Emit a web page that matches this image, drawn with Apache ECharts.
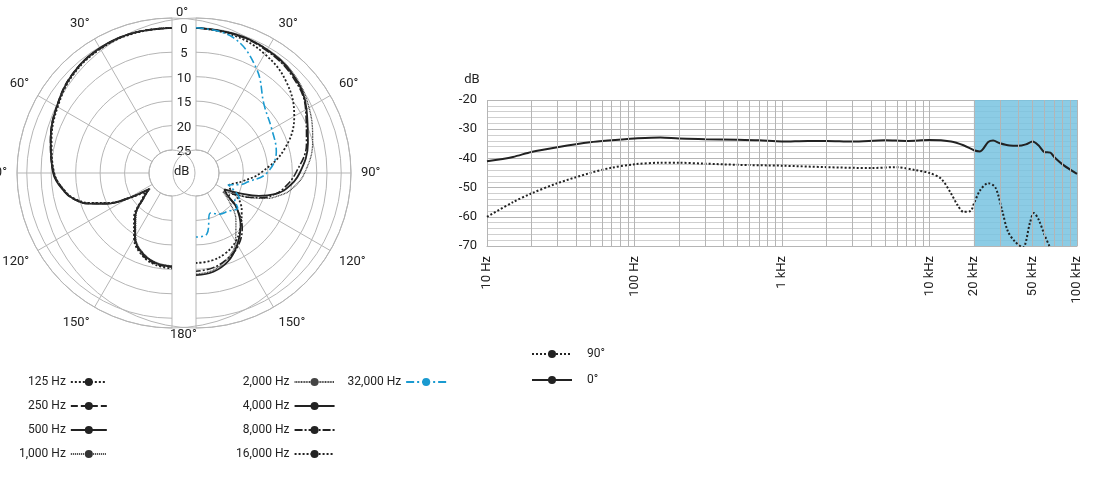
<!DOCTYPE html>
<html>
<head>
<meta charset="utf-8">
<script src="https://cdn.jsdelivr.net/npm/echarts@6/dist/echarts.min.js"></script>
<style>html,body{margin:0;padding:0;background:#fff}#c{width:1105px;height:484px}</style>
</head>
<body>
<div id="c"></div>
<script>
// polar data: [attenuation dB, angle deg]
var angles = [0, 15, 30, 45, 60, 75, 90, 100, 105, 110, 115, 120, 125, 130, 140, 150, 160, 170, 180];
var p125  = [0, 0.1, 0.4, 1.2, 2.7, 4.2, 5.6, 7.6, 9.2, 11.8, 15.2, 19.2, 23, 22, 17.6, 14.2, 11.8, 10.6, 10.2];
var p250  = [0, 0, 0.3, 1, 2.5, 4, 5.5, 7.5, 9, 11.5, 15, 19.5, 24, 22.5, 18, 14.5, 12, 10.8, 10.5];
var p500  = [0, 0, 0.2, 1, 2.5, 4, 5.4, 7.4, 9, 11.4, 14.8, 19.3, 24, 22.4, 18, 14.6, 12.2, 11, 10.6];
var p1000 = [0, 0, 0.3, 1.1, 2.6, 4.1, 5.6, 7.6, 9.1, 11.6, 15.1, 19.6, 24.2, 22.6, 18.2, 14.8, 12.3, 11.1, 10.7];
var p2000 = [0, 0.2, 0.5, 1.3, 3, 5, 7.5, 10, 12, 14.5, 18, 21.5, 23, 21, 17, 13.5, 11, 9.5, 9];
var p4000 = [0, 0.2, 0.6, 1.5, 3.6, 6, 8.5, 11, 13, 16, 20, 23, 22, 19, 15.5, 12.8, 10.5, 9.2, 8.8];
var p8000 = [0, 0.3, 0.8, 1.8, 3.8, 6.3, 9.3, 11.5, 13, 15, 18, 21, 21.5, 19, 15, 12.5, 11, 10, 9.6];
var p16000 = [0, 0.5, 1.6, 3.5, 6.5, 11, 16.5, 20, 21.5, 22.5, 22, 20, 18.5, 17.5, 15.5, 13.5, 12.2, 11.5, 11.3];
var p32000 = [0, 0.9, 5, 10, 11.8, 12.7, 15.2, 19, 20.5, 22.7, 21, 19.5, 20, 18.6, 19.5, 20, 21, 17, 16.6];
var polarTicks = [0, 5, 10, 15, 20, 25];

// frequency response
var f0 = [10, 15, 20, 30, 50, 70, 100, 150, 200, 300, 500, 700, 1000, 1500, 2000, 3000, 5000, 7000, 10000, 14000, 17000, 20000, 22000, 25000, 27000, 30000, 35000, 40000, 45000, 50000, 55000, 60000, 66000, 70000, 81000, 100000];
var db0 = [-41, -39.5, -37.8, -36.2, -34.5, -33.8, -33.2, -32.8, -33.2, -33.4, -33.6, -33.8, -34.2, -34, -34, -34.2, -33.8, -34, -33.7, -34.2, -35.5, -37.2, -37.6, -34.4, -33.9, -34.8, -35.6, -35.7, -35.2, -34.2, -35.6, -37.8, -38, -39.5, -42.3, -45.3];
var f90 = [10, 15, 20, 30, 50, 70, 100, 150, 200, 300, 500, 1000, 2000, 4000, 6000, 8000, 10000, 12000, 14000, 15500, 17000, 19000, 20000, 22000, 25000, 28000, 31000, 34000, 38000, 43000, 48000, 51000, 55000, 60000, 65000];
var db90 = [-60, -55, -52, -48.5, -45, -43.2, -42, -41.5, -41.5, -41.8, -42.2, -42.5, -43, -43.3, -43, -44, -45, -47, -52, -56, -58.3, -58, -55.5, -51, -48.5, -50, -57.6, -65, -68.5, -70.5, -62, -58.7, -61, -66, -70];
var minorFreqs = [20, 30, 40, 50, 60, 70, 80, 90, 200, 300, 400, 500, 600, 700, 800, 900, 2000, 3000, 4000, 5000, 6000, 7000, 8000, 9000, 20000, 30000, 40000, 50000, 60000, 70000, 80000, 90000];
var freqTicks = [[20000, '20 kHz'], [50000, '50 kHz']];

var font = 'Roboto, "Liberation Sans", sans-serif';
var grey = '#b5b5b5';

function pts(arr) {
  return arr.map(function (v, i) { return [v, angles[i]]; });
}
function xy(xs, ys) {
  return xs.map(function (x, i) { return [x, ys[i]]; });
}

var polarSeries = [
  ['125 Hz', p125, 0, [2, 2], '#222', 1.8],
  ['250 Hz', p250, 0, [7, 3], '#222', 1.8],
  ['500 Hz', p500, 0, 'solid', '#222', 1.8],
  ['1,000 Hz', p1000, 0, [1, 1], '#333', 1.5],
  ['2,000 Hz', p2000, 1, [1, 0.6], '#444', 1.3],
  ['4,000 Hz', p4000, 1, 'solid', '#222', 1.8],
  ['8,000 Hz', p8000, 1, [8, 2, 2, 2], '#222', 1.6],
  ['16,000 Hz', p16000, 1, [2, 2], '#222', 1.8],
  ['32,000 Hz', p32000, 1, [8, 3, 2, 3], '#1a9ad0', 1.6]
].map(function (s) {
  return {
    name: s[0], type: 'line', coordinateSystem: 'polar', polarIndex: s[2],
    data: pts(s[1]), smooth: 0.4, symbol: 'none', silent: true,
    lineStyle: { type: s[3], color: s[4], width: s[5] }, itemStyle: { color: s[4] }
  };
});

function angleAxis(idx) {
  return {
    polarIndex: idx, type: 'value', min: 0, max: 180, interval: 30,
    startAngle: 90, endAngle: idx === 0 ? 270 : -90, clockwise: idx !== 0,
    axisLine: { lineStyle: { color: grey, width: 1 } },
    axisTick: { show: false },
    splitLine: { lineStyle: { color: grey, width: 1 } },
    axisLabel: {
      margin: 10, fontSize: 13, color: '#222', fontFamily: font,
      formatter: function (v) { return (v === 0 || v === 180) ? '' : v + '°'; }
    }
  };
}
function radiusAxis(idx) {
  return {
    polarIndex: idx, type: 'value', min: -2, max: 25, inverse: true,
    axisLine: { show: false }, axisTick: { show: false }, axisLabel: { show: false },
    splitLine: { lineStyle: { color: grey, width: 1 } }
  };
}

var graphics = [
  { type: 'text', left: 176, top: 6, style: { text: '0°', font: '13px ' + font, fill: '#222' } },
  { type: 'text', left: 170, top: 328, style: { text: '180°', font: '13px ' + font, fill: '#222' } },
  { type: 'text', left: 174, top: 165, style: { text: 'dB', font: '13px ' + font, fill: '#222' } }
];
polarTicks.forEach(function (v) {
  var y = 173 - (23 + (25 - v) * 132 / 27);
  graphics.push({ type: 'text', x: 184, y: y + 2, style: { text: String(v), font: '13px ' + font, fill: '#222', align: 'center', verticalAlign: 'middle' } });
});

var legendText = { fontSize: 12, color: '#222', fontFamily: font, width: 58, align: 'right' };

var option = {
  animation: false,
  polar: [
    { center: [172, 173], radius: [23, 155] },
    { center: [196, 173], radius: [23, 155] }
  ],
  angleAxis: [angleAxis(0), angleAxis(1)],
  radiusAxis: [radiusAxis(0), radiusAxis(1)],
  grid: { left: 487, right: 28, top: 100, bottom: 238 },
  xAxis: {
    type: 'log', min: 10, max: 100000, logBase: 10,
    axisLine: { lineStyle: { color: grey } },
    axisTick: { show: false },
    splitLine: { show: true, lineStyle: { color: grey } },
    axisLabel: {
      rotate: 90, fontSize: 13, color: '#222', fontFamily: font, margin: 10,
      formatter: function (v) {
        return v >= 1000 ? (v / 1000) + ' kHz' : v + ' Hz';
      }
    }
  },
  yAxis: {
    type: 'value', min: -70, max: -20, interval: 10, name: 'dB',
    nameTextStyle: { fontSize: 13, color: '#222', fontFamily: font, padding: [0, 30, 0, 0] },
    nameGap: 14,
    axisLine: { show: false }, axisTick: { show: false },
    axisLabel: { fontSize: 13, color: '#222', fontFamily: font, margin: 10 },
    splitLine: { lineStyle: { color: grey } },
    minorTick: { show: false, splitNumber: 5 },
    minorSplitLine: { show: true, lineStyle: { color: '#cfcfcf' } }
  },
  legend: [
    { data: ['125 Hz', '250 Hz', '500 Hz', '1,000 Hz'], orient: 'vertical', left: 14, top: 371,
      align: 'right', itemWidth: 36, itemHeight: 10, itemGap: 12, textStyle: legendText },
    { data: ['2,000 Hz', '4,000 Hz', '8,000 Hz', '16,000 Hz', '32,000 Hz'], orient: 'vertical', left: 231, top: 371,
      align: 'right', itemWidth: 40, itemHeight: 10, itemGap: 12, textStyle: legendText },
    { data: ['90°', '0°'], orient: 'vertical', left: 526, top: 343, align: 'left',
      itemWidth: 40, itemHeight: 10, itemGap: 14, textStyle: { fontSize: 12, color: '#222', fontFamily: font, padding: [0, 0, 0, 10] } }
  ],
  graphic: graphics,
  series: polarSeries.concat([
    {
      name: '90°', type: 'line', data: xy(f90, db90), smooth: 0.3, symbol: 'none', silent: true,
      lineStyle: { type: [2, 2], color: '#222', width: 2 }, itemStyle: { color: '#222' },
      markArea: { silent: true, itemStyle: { color: 'rgba(120,195,225,0.85)' }, data: [[{ xAxis: 20000 }, { xAxis: 100000 }]] },
      markLine: {
        silent: true, symbol: 'none', label: { show: false },
        lineStyle: { color: grey, type: 'solid', width: 1 },
        data: minorFreqs.map(function (f) { return { xAxis: f }; })
      },
      z: 3
    },
    {
      name: '0°', type: 'line', data: xy(f0, db0), smooth: 0.3, symbol: 'none', silent: true,
      lineStyle: { type: 'solid', color: '#222', width: 2 }, itemStyle: { color: '#222' }, z: 3
    }
  ])
};

var chart = echarts.init(document.getElementById('c'));
chart.setOption(option);
var extra = freqTicks.map(function (t) {
  var p = chart.convertToPixel({ gridIndex: 0 }, [t[0], -70]);
  return { type: 'text', x: p[0], y: p[1] + 10, rotation: Math.PI / 2,
    style: { text: t[1], font: '13px ' + font, fill: '#222', align: 'right', verticalAlign: 'middle' } };
});
chart.setOption({ graphic: graphics.concat(extra) });
</script>
</body>
</html>
